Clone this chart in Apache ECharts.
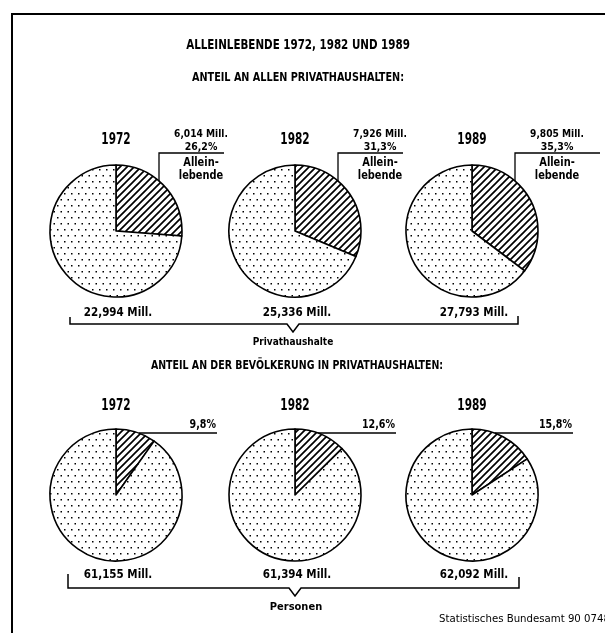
<!DOCTYPE html>
<html>
<head>
<meta charset="utf-8">
<script src="https://cdn.jsdelivr.net/npm/echarts@6/dist/echarts.min.js"></script>
<style>
html, body { margin: 0; padding: 0; background: #fff; }
#chartEl { width: 605px; height: 633px; }
</style>
</head>
<body>
<div id="chartEl"></div>
<script>
// Daten
const years = ["1972", "1982", "1989"]
const alleinMill = [6.014, 7.926, 9.805]
const haushalteMill = [22.994, 25.336, 27.793]
const anteilHaushalte = [26.2, 31.3, 35.3]
const personenMill = [61.155, 61.394, 62.092]
const anteilPersonen = [9.8, 12.6, 15.8]

// Layout
const cxList = [116, 295, 472]
const topCy = 231
const botCy = 495
const R = 66
const FONT = "'Liberation Sans Narrow', 'DejaVu Sans Condensed', 'Liberation Sans', sans-serif"

const fmtMill = (v) => v.toFixed(3).replace(".", ",") + " Mill."
const fmtPct = (v) => v.toFixed(1).replace(".", ",") + "%"

// Muster: Schraffur
const makeHatch = () => {
  const s = 7
  const c = document.createElement("canvas")
  c.width = s
  c.height = s
  const ctx = c.getContext("2d")
  ctx.fillStyle = "#fff"
  ctx.fillRect(0, 0, s, s)
  ctx.strokeStyle = "#000"
  ctx.lineWidth = 1.7
  ctx.beginPath()
  ctx.moveTo(-1, s + 1)
  ctx.lineTo(s + 1, -1)
  ctx.moveTo(-1, 1)
  ctx.lineTo(1, -1)
  ctx.moveTo(s - 1, s + 1)
  ctx.lineTo(s + 1, s - 1)
  ctx.stroke()
  return c
}

// Muster: Punkte
const makeDots = () => {
  const c = document.createElement("canvas")
  c.width = 14
  c.height = 12
  const ctx = c.getContext("2d")
  ctx.fillStyle = "#fff"
  ctx.fillRect(0, 0, 14, 12)
  ctx.fillStyle = "#000"
  ;[[1, 1], [8, 1], [4.5, 7], [11.5, 7]].forEach(([x, y]) => {
    ctx.fillRect(x, y, 1.5, 1.5)
  })
  return c
}

const hatchFill = { image: makeHatch(), repeat: "repeat" }
const dotFill = { image: makeDots(), repeat: "repeat" }

const makePie = (cx, cy, pct) => ({
  type: "pie",
  center: [cx, cy],
  radius: R,
  startAngle: 90,
  clockwise: true,
  silent: true,
  animation: false,
  label: { show: false },
  labelLine: { show: false },
  itemStyle: { borderColor: "#000", borderWidth: 1.6 },
  data: [
    { value: pct, itemStyle: { color: hatchFill } },
    { value: 100 - pct, itemStyle: { color: dotFill } }
  ]
})

const seriesData = []
years.forEach((y, i) => {
  seriesData.push(makePie(cxList[i], topCy, anteilHaushalte[i]))
  seriesData.push(makePie(cxList[i], botCy, anteilPersonen[i]))
})

const txt = (x, y, text, size, sx, align, weight) => ({
  type: "text",
  x: x,
  y: y,
  scaleX: sx || 1,
  style: {
    text: text,
    font: (weight || "bold") + " " + size + "px " + FONT,
    fill: "#000",
    align: align || "center",
    verticalAlign: "middle"
  }
})

const line = (points, w) => ({
  type: "polyline",
  shape: { points: points },
  style: { stroke: "#000", lineWidth: w || 1.5, fill: null }
})

const graphics = []
// Rahmen
graphics.push(line([[605, 14], [12, 14], [12, 633]], 2))
// Titel
graphics.push(txt(298, 45, "ALLEINLEBENDE 1972, 1982 UND 1989", 14, 0.82))
graphics.push(txt(298, 78, "ANTEIL AN ALLEN PRIVATHAUSHALTEN:", 12.5, 0.86))
graphics.push(txt(297, 366, "ANTEIL AN DER BEVÖLKERUNG IN PRIVATHAUSHALTEN:", 12.5, 0.84))

const lineEnds = [108, 108, 128]
years.forEach((y, i) => {
  const cx = cxList[i]
  // oben
  graphics.push(txt(cx, 140, y, 15, 0.78))
  const lx = cx + 43
  const edgeY = topCy - Math.sqrt(R * R - 43 * 43)
  graphics.push(line([[lx, edgeY], [lx, 153], [cx + lineEnds[i], 153]], 1.3))
  graphics.push(txt(cx + 85, 134, fmtMill(alleinMill[i]), 11, 0.92))
  graphics.push(txt(cx + 85, 147, fmtPct(anteilHaushalte[i]), 11, 0.95))
  graphics.push(txt(cx + 85, 163, "Allein-", 11.5, 0.95))
  graphics.push(txt(cx + 85, 176, "lebende", 11.5, 0.95))
  graphics.push(txt(cx + 2, 313, fmtMill(haushalteMill[i]), 12.5, 0.92))
  // unten
  graphics.push(txt(cx, 406, y, 15, 0.78))
  const ly = botCy - R + 4
  const sx = cx + Math.sqrt(R * R - (R - 4) * (R - 4))
  graphics.push(line([[sx, ly], [cx + 101, ly]], 1.3))
  graphics.push(txt(cx + 100, 425, fmtPct(anteilPersonen[i]), 11.5, 0.92, "right"))
  graphics.push(txt(cx + 2, 575, fmtMill(personenMill[i]), 12.5, 0.92))
})

// Klammern
graphics.push(line([[70, 317], [70, 324], [287, 324], [293, 332], [299, 324], [518, 324], [518, 316]], 1.5))
graphics.push(txt(293, 342, "Privathaushalte", 10))
graphics.push(line([[68, 574], [68, 588], [289, 588], [295, 596], [301, 588], [519, 588], [519, 577]], 1.5))
graphics.push(txt(296, 607, "Personen", 11))
graphics.push(txt(439, 619, "Statistisches Bundesamt 90 0748", 11.3, 1, "left", "normal"))

const chart = echarts.init(document.getElementById("chartEl"), null, { renderer: "canvas" })
chart.setOption({
  backgroundColor: "#fff",
  animation: false,
  series: seriesData,
  graphic: graphics
})
</script>
</body>
</html>
